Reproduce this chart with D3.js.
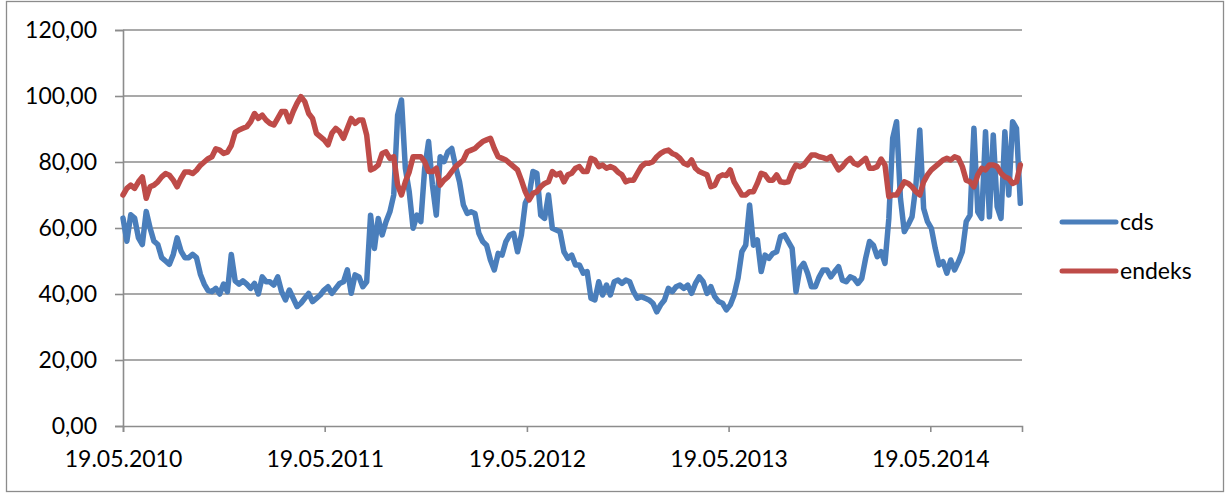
<!DOCTYPE html>
<html>
<head>
<meta charset="utf-8">
<script src="https://cdn.jsdelivr.net/npm/d3@7"></script>
<style>
    body { margin: 0; background: #fff; }
    text { font-family: Lato, "Open Sans", sans-serif; fill: #000; }
</style>
</head>
<body>
<svg id="chart" width="1229" height="494"></svg>
<script>
// weekly observations starting at the first date
const startDate = new Date(2010, 4, 19);
const endDate = new Date(2014, 10, 1);

const cdsValues = [
    63, 56, 64, 63, 57, 55, 65, 60, 56, 55, 51, 50, 49, 52, 57, 53, 51, 51, 52, 51,
    46, 43, 41, 40.7, 41.7, 40, 43, 40.7, 52, 44, 43, 44, 43, 41.7, 43.2, 40, 45.2, 43.7,
    43.7, 42.7, 45.2, 40.7, 38.2, 41.2, 38.7, 36.2, 37.2, 38.7, 40.2, 37.7, 38.7, 39.7, 41.2, 42.2,
    40.2, 41.7, 43.2, 43.7, 47.3, 40.2, 45.8, 45.2, 42.2, 43.7, 63.9, 53.8, 62.9, 57.9, 61.9, 64.9,
    70, 94.2, 98.8, 78.1, 71, 59.9, 63.9,
    61.9, 78.1, 86.2, 73, 63.9, 81.6, 80.1, 83.1, 84.1, 78.6, 74, 67, 64.4, 64.9, 64.4, 58.4,
    55.9, 54.8, 50.3, 47.3, 52.3, 51.8, 55.9, 57.9, 58.4, 52.8, 57.9, 67.5, 70, 77.1, 76.6, 63.9,
    62.9, 70, 59.9, 59.4, 58.9, 52.8, 50.8,
    51.8, 48.8, 48.8, 46.3, 46.8, 38.7, 38.2, 43.7, 39.7, 42.7, 39.7, 43.7, 44.2, 43.2, 44.2, 43.7,
    40.7, 38.7, 39.2, 38.7, 38.2, 37.2, 34.6, 36.7, 38.2, 41.7, 40.7, 42.2, 42.7, 41.7, 42.7, 40.2,
    43.2, 45.2, 43.7, 40.2, 42.2, 39.2, 37.7,
    37.2, 35.2, 36.7, 39.7, 44.7, 52.8, 54.8, 67, 54.8, 56.4, 46.8, 51.8, 50.8, 52.3, 52.8, 57.4,
    57.9, 55.9, 53.8, 40.7, 47.8, 49.3, 46.3, 42.2, 42.2, 45.2, 47.3, 47.3, 45.2, 46.8, 48.3, 44.2,
    43.7, 45.2, 44.7, 43.2, 44.7, 50.8, 55.9,
    54.8, 51.3, 52.8, 49.3, 62.9, 87.2, 92.2, 69, 58.9, 61, 63.4, 73, 89.7, 65.9, 61.9, 59.9,
    53.8, 48.8, 49.8, 46.3, 50.3, 47.3, 49.8, 52.8, 61.9, 63.9, 90.2, 64.9, 62.9, 89.2, 63.4, 88.2,
    66.5, 62.9, 89.2, 70, 92.2, 90.2, 67.5
];

const endeksValues = [
    70, 72, 73, 72, 74, 75.5, 69, 72.5, 73, 74, 75.5, 76.5, 76, 74.5, 72.5, 75, 77, 77, 76.5, 77.5,
    79, 80, 81, 81.6, 84, 83.6, 82.6, 83, 85, 89, 89.7, 90.2, 90.7, 92.2, 94.7, 93.2, 94.2, 92.7,
    91.7, 91.2, 93.2, 95.3, 95.3, 92.2, 95.3, 97.8, 99.8, 98.3, 94.7, 93.2, 88.7, 87.7, 86.7, 85.2,
    88.7, 90.2, 89.2, 87.2, 90.2, 93.2, 91.7, 92.7, 92.7, 88.2, 77.6, 78.1, 79.1, 82.6, 83.1, 81.1,
    81.6, 73, 70, 74, 77, 81.6, 81.6,
    81.6, 80.1, 77.1, 77.1, 78.1, 73, 74.5, 75.5, 77.1, 78.6, 79.6, 80.6, 83.1, 83.6, 84.1, 85.2,
    86.2, 86.7, 87.2, 84.1, 81.6, 81.1, 80.6, 79.6, 78.6, 77.6, 74.5, 71, 68.5, 70.5, 71, 72.5,
    73.5, 74, 77.1, 76.1, 76.6, 74, 76.1,
    76.6, 78.1, 78.6, 77.1, 77.1, 81.1, 80.6, 78.6, 79.1, 78.1, 78.6, 78.1, 76.9, 76.1, 74, 74.5,
    74.5, 76.6, 78.6, 79.6, 79.6, 80.1, 81.6, 82.6, 83.3, 83.6, 82.6, 82.1, 81.1, 79.6, 79.1, 80.6,
    78.1, 77.1, 76.6, 76.1, 72.5, 73, 75.5,
    76.1, 75.9, 77.6, 74, 72, 70, 70, 71, 71, 73.5, 76.6, 76.1, 74.5, 74.5, 76.1, 74,
    73.8, 74, 77.1, 79.1, 78.6, 79.1, 80.6, 82.1, 82.1, 81.6, 81.3, 80.9, 81.6, 79.6, 77.6, 78.6,
    80.1, 81.1, 79.6, 79.1, 80.1, 81.1, 78.1,
    78.1, 78.6, 80.9, 79.1, 69.5, 70, 70, 72, 74, 73.5, 72.5, 71, 70, 74, 76.1, 77.6,
    78.6, 79.6, 80.6, 81.1, 80.6, 81.6, 81.1, 78.6, 74.5, 74, 72.5, 76.1, 78.1, 77.6, 79.1, 79.1,
    78.6, 76.6, 75.5, 75, 73.5, 74, 79.1
];

const xTickDates = [
    new Date(2010, 4, 19), new Date(2011, 4, 19), new Date(2012, 4, 19),
    new Date(2013, 4, 19), new Date(2014, 4, 19)
];
const yTicks = [0, 20, 40, 60, 80, 100, 120];

const seriesNames = ["cds", "endeks"];
const seriesColors = ["#4A7EBB", "#BE4B48"];

const svg = d3.select("#chart");
const gridColor = "#8c8c8c";
const fontSize = 23;

//outer frame of the chart
svg.append("rect")
    .attr("x", 6.5).attr("y", 1.5)
    .attr("width", 1217).attr("height", 490)
    .attr("fill", "none")
    .attr("stroke", gridColor)
    .attr("stroke-width", 1.3);

const x = d3.scaleTime().domain([startDate, endDate]).range([123, 1022]);
const y = d3.scaleLinear().domain([0, 120]).range([426, 30]);

//horizontal gridlines
svg.append("g")
    .selectAll("line")
    .data(yTicks.filter(d => d > 0))
    .join("line")
    .attr("x1", 123).attr("x2", 1022)
    .attr("y1", d => y(d)).attr("y2", d => y(d))
    .attr("stroke", gridColor)
    .attr("stroke-width", 1.6);

//y axis
const yAxis = svg.append("g")
    .attr("transform", "translate(123,0)")
    .call(d3.axisLeft(y).tickValues(yTicks).tickSize(8).tickPadding(18)
        .tickFormat(d => d3.format(".2f")(d).replace(".", ",")));

//x axis
const xAxis = svg.append("g")
    .attr("transform", "translate(0,426)")
    .call(d3.axisBottom(x).tickValues(xTickDates).tickSize(6).tickPadding(19)
        .tickFormat(d3.timeFormat("%d.%m.%Y")));

for (const axis of [yAxis, xAxis]) {
    axis.select(".domain").attr("stroke", gridColor).attr("stroke-width", 1.6);
    axis.selectAll(".tick line").attr("stroke", gridColor).attr("stroke-width", 1.6);
    axis.selectAll(".tick text").attr("font-size", fontSize).attr("font-family", "Lato, 'Open Sans', sans-serif").attr("fill", "#000");
}

const dates = cdsValues.map((v, i) => d3.timeWeek.offset(startDate, i));

const line = d3.line()
    .x(d => x(d[0]))
    .y(d => y(d[1]));

[cdsValues, endeksValues].forEach((values, s) => {
    svg.append("path")
        .datum(values.map((v, i) => [dates[i], v]))
        .attr("d", line)
        .attr("fill", "none")
        .attr("stroke", seriesColors[s])
        .attr("stroke-width", 5.5)
        .attr("stroke-linejoin", "round")
        .attr("stroke-linecap", "round");
});

//legend
const legend = svg.append("g");
seriesNames.forEach((name, s) => {
    const ly = 222 + s * 49;
    legend.append("line")
        .attr("x1", 1062).attr("x2", 1116)
        .attr("y1", ly).attr("y2", ly)
        .attr("stroke", seriesColors[s])
        .attr("stroke-width", 5)
        .attr("stroke-linecap", "round");
    legend.append("text")
        .attr("x", 1120).attr("y", ly)
        .attr("dy", "0.35em")
        .attr("font-size", fontSize)
        .text(name);
});
</script>
</body>
</html>
